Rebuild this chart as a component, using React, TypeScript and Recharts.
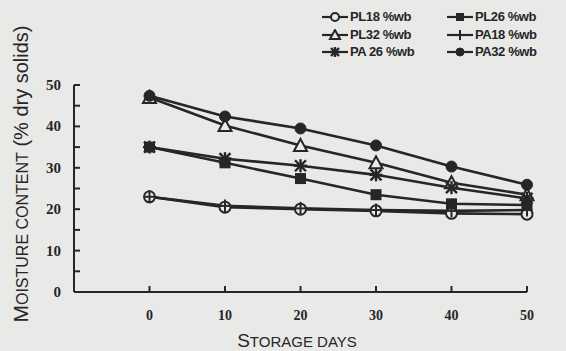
import React from "react";
import { LineChart, Line, XAxis, YAxis } from "recharts";

const days = [0, 10, 20, 30, 40, 50];
const pl18 = [23, 20.5, 20, 19.6, 19, 18.8];
const pa18 = [23, 20.8, 20.2, 19.8, 19.6, 19.8];
const pl26 = [35, 31.2, 27.4, 23.5, 21.3, 21];
const pa26 = [35, 32.2, 30.5, 28.3, 25.2, 22.6];
const pl32 = [47, 40.2, 35.4, 31.2, 26.4, 23.5];
const pa32 = [47.4, 42.4, 39.5, 35.4, 30.3, 25.9];

const xTicks = [0, 10, 20, 30, 40, 50];
const yTicks = [0, 5, 10, 15, 20, 25, 30, 35, 40, 45, 50];

const data = days.map((d, i) => ({
  day: d,
  pl18: pl18[i],
  pa18: pa18[i],
  pl26: pl26[i],
  pa26: pa26[i],
  pl32: pl32[i],
  pa32: pa32[i],
}));

const INK = "#262626";
const BG = "#e9e9e7";

type Shape = "openCircle" | "square" | "openTriangle" | "plus" | "asterisk" | "circle";

const series: { key: string; name: string; shape: Shape }[] = [
  { key: "pl18", name: "PL18 %wb", shape: "openCircle" },
  { key: "pl26", name: "PL26 %wb", shape: "square" },
  { key: "pl32", name: "PL32 %wb", shape: "openTriangle" },
  { key: "pa18", name: "PA18 %wb", shape: "plus" },
  { key: "pa26", name: "PA 26 %wb", shape: "asterisk" },
  { key: "pa32", name: "PA32 %wb", shape: "circle" },
];

function Marker({ cx, cy, shape, r = 5.5 }: { cx: number; cy: number; shape: Shape; r?: number }) {
  switch (shape) {
    case "openCircle":
      return <circle cx={cx} cy={cy} r={r} fill={BG} stroke={INK} strokeWidth={2} />;
    case "circle":
      return <circle cx={cx} cy={cy} r={r} fill={INK} stroke={INK} />;
    case "square":
      return <rect x={cx - r} y={cy - r} width={r * 2} height={r * 2} fill={INK} />;
    case "openTriangle":
      return (
        <polygon
          points={`${cx},${cy - r - 1} ${cx + r + 1},${cy + r} ${cx - r - 1},${cy + r}`}
          fill={BG}
          stroke={INK}
          strokeWidth={2}
        />
      );
    case "plus":
      return (
        <g stroke={INK} strokeWidth={2}>
          <line x1={cx} y1={cy - r - 1} x2={cx} y2={cy + r + 1} />
          <line x1={cx - r} y1={cy} x2={cx + r} y2={cy} />
        </g>
      );
    case "asterisk":
      return (
        <g stroke={INK} strokeWidth={2.4}>
          <line x1={cx} y1={cy - r - 1} x2={cx} y2={cy + r + 1} />
          <line x1={cx - r} y1={cy - r} x2={cx + r} y2={cy + r} />
          <line x1={cx - r} y1={cy + r} x2={cx + r} y2={cy - r} />
          <line x1={cx - r - 1} y1={cy} x2={cx + r + 1} y2={cy} />
        </g>
      );
  }
  return null;
}

const XTick = (props: any) => {
  const { x, y, payload } = props;
  return (
    <g>
      <line x1={x} y1={y} x2={x} y2={y - 6} stroke={INK} strokeWidth={2} />
      <text
        x={x}
        y={y + 28}
        textAnchor="middle"
        fill={INK}
        fontFamily="Liberation Serif, serif"
        fontWeight="bold"
        fontSize={14}
      >
        {payload.value}
      </text>
    </g>
  );
};

const YTick = (props: any) => {
  const { x, y, payload } = props;
  const major = payload.value % 10 === 0;
  return (
    <g>
      <line x1={x} y1={y} x2={x + 6} y2={y} stroke={INK} strokeWidth={2} />
      {major && (
        <text
          x={x - 13}
          y={y + 5}
          textAnchor="end"
          fill={INK}
          fontFamily="Liberation Serif, serif"
          fontWeight="bold"
          fontSize={15}
        >
          {payload.value}
        </text>
      )}
    </g>
  );
};

const LegendIcon = ({ shape }: { shape: Shape }) => (
  <svg width={26} height={12} style={{ display: "block" }}>
    <line x1={0} y1={6} x2={26} y2={6} stroke={INK} strokeWidth={2.2} />
    <Marker cx={13} cy={6} shape={shape} r={4} />
  </svg>
);

const legendPos: Record<string, { left: number; top: number }> = {
  pl18: { left: 322, top: 9 },
  pl26: { left: 447, top: 9 },
  pl32: { left: 322, top: 27 },
  pa18: { left: 447, top: 27 },
  pa26: { left: 322, top: 44 },
  pa32: { left: 447, top: 44 },
};

export default function App() {
  return (
    <div style={{ position: "absolute", left: 0, top: 0, width: 566, height: 351, background: BG, overflow: "hidden" }}>
      <LineChart width={566} height={351} data={data} margin={{ top: 85, right: 39, left: 0, bottom: 0 }}>
        <XAxis
          dataKey="day"
          type="number"
          domain={[-10, 50]}
          ticks={xTicks}
          tick={<XTick />}
          tickLine={false}
          tickSize={0}
          tickMargin={0}
          height={59}
          axisLine={{ stroke: INK, strokeWidth: 2 }}
          interval={0}
        />
        <YAxis
          type="number"
          domain={[0, 50]}
          ticks={yTicks}
          tick={<YTick />}
          tickLine={false}
          tickSize={0}
          tickMargin={0}
          width={74}
          axisLine={{ stroke: INK, strokeWidth: 2 }}
          interval={0}
        />
        {series.map((s) => (
          <Line
            key={s.key}
            dataKey={s.key}
            name={s.name}
            stroke={INK}
            strokeWidth={2.6}
            isAnimationActive={false}
            dot={(p: any) => <Marker key={`${s.key}-${p.index}`} cx={p.cx} cy={p.cy} shape={s.shape} />}
          />
        ))}
        <text
          transform="translate(28,174) rotate(-90)"
          textAnchor="middle"
          fill={INK}
          fontFamily="Liberation Sans, Arial, sans-serif"
        >
          <tspan fontSize={21}>M</tspan>
          <tspan fontSize={16}>OISTURE CONTENT</tspan>
          <tspan fontSize={20}> (% dry solids)</tspan>
        </text>
        <text x={297} y={347} textAnchor="middle" fill={INK} fontFamily="Liberation Sans, Arial, sans-serif">
          <tspan fontSize={19}>S</tspan>
          <tspan fontSize={15}>TORAGE DAYS</tspan>
        </text>
      </LineChart>
      {series.map((s) => (
        <div
          key={s.key}
          style={{
            position: "absolute",
            left: legendPos[s.key].left,
            top: legendPos[s.key].top,
            display: "flex",
            alignItems: "center",
            gap: 2,
            fontFamily: "Liberation Sans, Arial, sans-serif",
            fontWeight: "bold",
            fontSize: 13,
            color: INK,
            whiteSpace: "nowrap",
            letterSpacing: -0.4,
          }}
        >
          <LegendIcon shape={s.shape} />
          <span>{s.name}</span>
        </div>
      ))}
    </div>
  );
}
